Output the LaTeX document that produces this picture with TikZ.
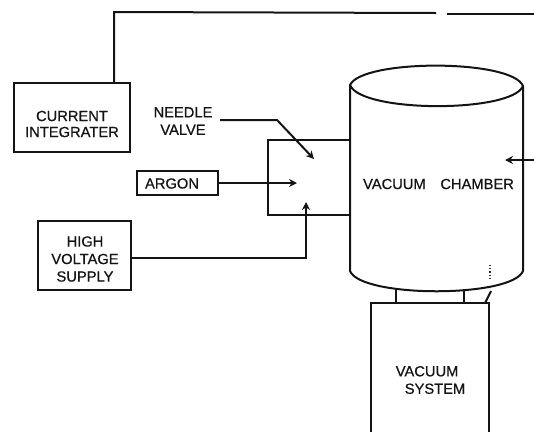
\documentclass[tikz,border=0pt]{standalone}
\usepackage{fontspec}
\setmainfont[RawFeature={embolden=0.7}]{Liberation Sans}
\usetikzlibrary{arrows.meta}
\tikzset{
  wire/.style={line width=2pt,black!92,line join=miter},
  flow/.style={wire,-{Stealth[length=8pt,width=8pt]}},
  unit/.style={draw=black!92,line width=2pt,fill=none,inner sep=0pt},
  lbl/.style={font=\fontsize{14.7}{17.5}\selectfont,align=center,inner sep=0pt,text=black!92},
}
\begin{document}
\begin{tikzpicture}[x=1pt,y=-1pt]
\useasboundingbox (0,0) rectangle (534,432);
% boxes
\node[unit,minimum width=116pt,minimum height=69pt] (integ) at (72,117.5) {};
\node[lbl,font=\fontsize{14.7}{16}\selectfont] (integt) at (72,124) {CURRENT\\INTEGRATER};
\node[unit,minimum width=81pt,minimum height=24pt] (argon) at (177.5,183) {};
\node[lbl] (argont) at (172,183.5) {ARGON};
\node[unit,minimum width=93pt,minimum height=69pt] (hv) at (84,255) {};
\node[lbl] (hvt) at (85,259) {HIGH\\VOLTAGE\\SUPPLY};
\node[lbl] (needle) at (183,121) {NEEDLE\\VALVE};
\node[lbl] (chambert) at (438.5,184) {VACUUM\hspace{1em}CHAMBER};
\node[lbl,align=left] (vact) at (430.5,380) {VACUUM\\\hspace{9pt}SYSTEM};
% anchor points
\coordinate (valveTL) at (350,140);
\coordinate (valveA) at (268,140);
\coordinate (valveB) at (268,215);
\coordinate (valveBR) at (350,215);
\coordinate (nvS) at (220,120);
\coordinate (nvK) at (277,120);
\coordinate (nvE) at (314,159);
\coordinate (arE) at (297,183);
\coordinate (hvK) at (306,258);
\coordinate (hvE) at (306,202);
\coordinate (topK) at (114,12);
\coordinate (topG) at (436,13);
\coordinate (topH) at (447,14);
\coordinate (topR) at (534,14);
\coordinate (rightS) at (534,160);
\coordinate (rightE) at (505,160);
% valve box
\draw[wire] (valveTL) -- (valveA) -- (valveB) -- (valveBR);
% chamber
\draw[wire] (350,271) -- (350,85) .. controls (362,59) and (512,59) .. (523,86) -- (523,271)
  .. controls (512,298) and (361,298) .. (350,271);
\draw[wire] (350,85) .. controls (361,113) and (512,113) .. (523,86);
% vacuum system (open at the foot)
\draw[wire] (371,432) -- (371,303) -- (489,303) -- (489,432);
\draw[wire] (396,290) -- (396,303);
\draw[wire] (464,290) -- (464,303);
\draw[wire] (485,303) -- (491,291);
\draw[line width=1.2pt,black!80,dotted] (490,265) -- (490,278);
% connectors
\draw[wire] (integ.north -| topK) -- (topK) -- (topG);
\draw[wire] (topH) -- (topR);
\draw[flow] (nvS) -- (nvK) -- (nvE);
\draw[flow] (argon.east) -- (arE);
\draw[flow] (hv.east |- hvK) -- (hvK) -- (hvE);
\draw[flow] (rightS) -- (rightE);
\end{tikzpicture}
\end{document}
